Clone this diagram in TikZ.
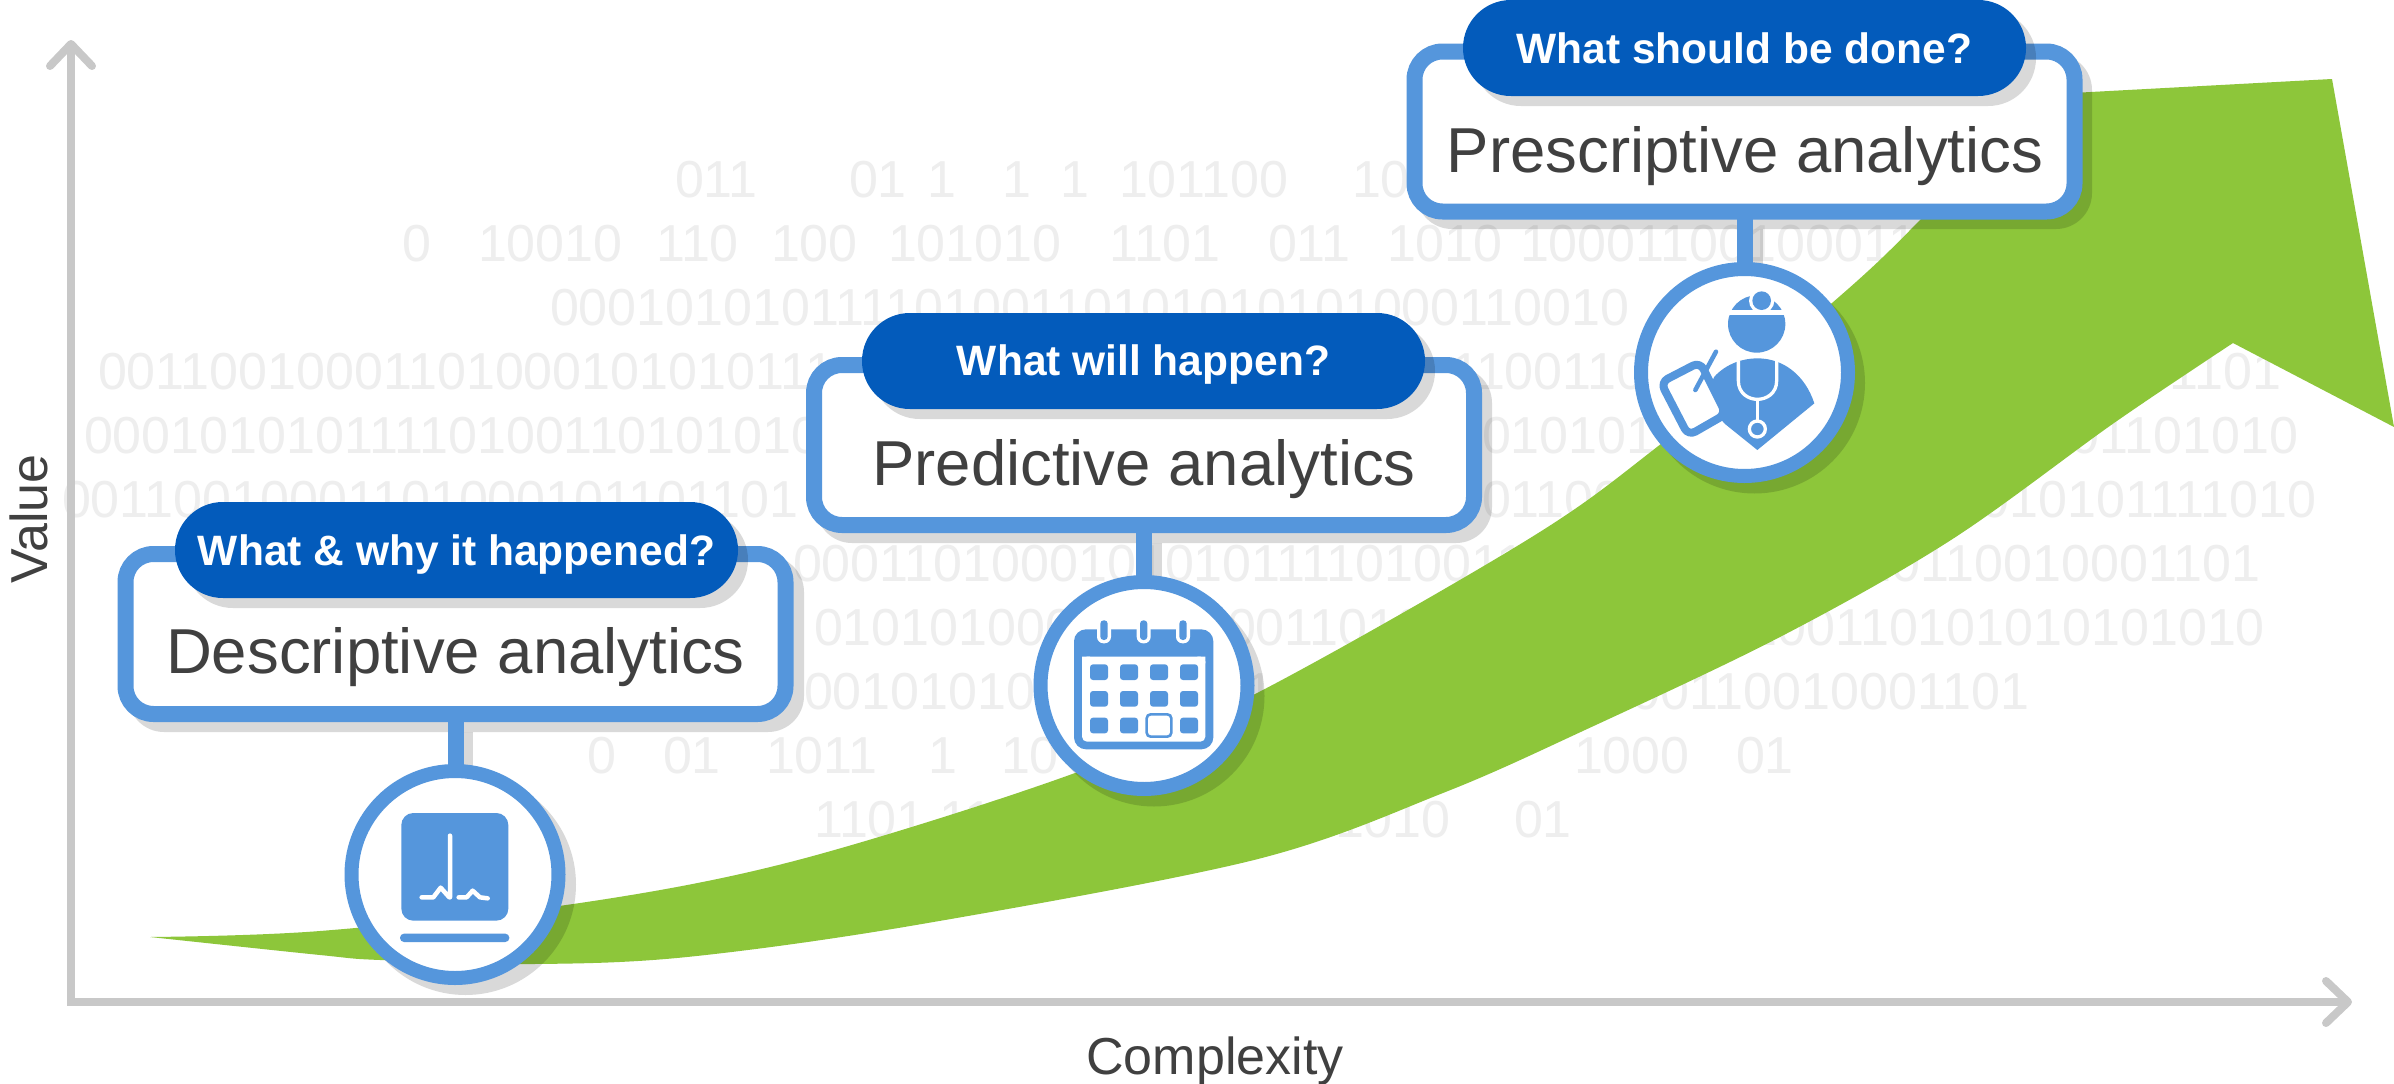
\documentclass[tikz,border=0pt]{standalone}
\usepackage{fontspec}
\setmainfont{Liberation Sans}
\usetikzlibrary{calc}
\definecolor{iconblue}{HTML}{5596DC}
\definecolor{pillblue}{HTML}{035BBB}
\definecolor{arrowgreen}{HTML}{8DC63A}
\definecolor{axisgray}{HTML}{C8C8C8}
\definecolor{bingray}{HTML}{EEEEEE}
\definecolor{textgray}{HTML}{404040}
\newcommand{\fsz}[1]{\fontsize{#1}{#1}\selectfont}
\tikzset{
  bin/.style={anchor=base west,inner sep=0pt,outer sep=0pt,text=bingray,font=\fsz{52}},
  binr/.style={anchor=base east,inner sep=0pt,outer sep=0pt,text=bingray,font=\fsz{52}},
  axisline/.style={draw=axisgray,line width=8pt,line join=miter},
  axislabel/.style={inner sep=0pt,text=textgray,font=\fsz{52},anchor=base},
  box/.style={draw=iconblue,fill=white,line width=16pt,rounded corners=28pt,minimum width=660pt,minimum height=160pt,inner sep=0pt,outer sep=0pt},
  pill/.style={fill=pillblue,rounded corners=47.9pt,minimum width=563pt,minimum height=96pt,inner sep=0pt,outer sep=0pt},
  pilltext/.style={anchor=base,inner sep=0pt,text=white,font=\fsz{42.5}\bfseries},
  boxtext/.style={anchor=base,inner sep=0pt,text=textgray,font=\fsz{63.5}},
  ring/.style={circle,draw=iconblue,fill=white,line width=14pt,minimum size=207pt,inner sep=0pt,outer sep=0pt},
  stem/.style={draw=iconblue,line width=16pt},
  shade/.style={fill=black,fill opacity=.15},
  ic/.style={fill=iconblue,draw=none},
  zoomed/.style={x=.33333pt,y=-.33333pt}
}
\begin{document}
\begin{tikzpicture}[x=1pt,y=-1pt]
\useasboundingbox (0,0) rectangle (2394,1084);
\fill[white] (0,0) rectangle (2394,1084);

% background binary digits
\foreach \x/\y/\t [count=\i] in {
 675/197/011, 849/197/01, 927/197/1, 1002/197/1, 1060/197/1, 1119/197/101100, 1352/197/100,
 402/261/0, 478/261/10010, 656/261/110, 771/261/100, 888/261/101010, 1109/261/1101, 1268/261/011, 1387/261/1010, 1520/261/10001100100011,
 550/325/00010101011110100110101010101000110010,
 98/389/00110010001101000101010111, 1451/389/1100110,
 84/453/00010101011110100110101010101, 1482/453/0101011,
 62/517/00110010001101000101101101, 1482/517/01100,
 793/581/00011010001010101111010011,
 814/645/010101000, 1227/645/00110101,
 804/709/0010101010, 1245/709/1,
 587/773/0, 663/773/01, 766/773/1011, 928/773/1, 1001/773/10,
 814/837/1101, 939/837/11, 1335/837/1010, 1514/837/01}
  {\node[bin] (bin\i) at (\x,\y) {\t};}
\node[binr] (binA) at (1574,773) {};
\node[bin] (binB) at (1574,773) {1000};
\node[bin] (binC) at (1736,773) {01};
\foreach \x/\y/\t [count=\i] in {
 2281/389/1101101, 2298/453/101101010, 2316/517/1010101111010,
 2260/581/1110110010001101, 2265/645/1100110101010101010, 2029/709/100110010001101}
  {\node[binr] (binr\i) at (\x,\y) {\t};}

% axes
\coordinate (origin) at (71,1002);
\coordinate (ytip) at (71,44);
\coordinate (xtip) at (2348,1002);
\draw[axisline] (ytip) -- (origin) -- (xtip);
\draw[axisline,line join=round,line cap=round] ($(ytip)+(-21,22)$) -- (ytip) -- ($(ytip)+(21,22)$);
\draw[axisline,line join=round,line cap=round] ($(xtip)+(-22,-21)$) -- (xtip) -- ($(xtip)+(-22,21)$);
\node[axislabel] (xlabel) at (1215,1074) {Complexity};
\node[axislabel,rotate=90] (ylabel) at (47,519) {Value};

% green arrow
\fill[arrowgreen] plot[smooth,tension=.55] coordinates {(150,937) (320,931) (580,903) (798,860) (1075,773) (1259,692) (1527,540) (1657,447) (1832,303) (1920,220) (2035,95)}
  -- (2332,79) -- (2394,427) -- (2233,343)
  -- plot[smooth,tension=.55] coordinates {(2233,343) (2114,423) (1951,540) (1780,637) (1585,730) (1443,793) (1254,860) (916,925) (687,957) (534,964) (380,960) (320,955) (150,937)} -- cycle;

% Descriptive
\fill[shade] (463,732) rectangle (473,775);
\fill[shade,rounded corners=36pt] (128,556) rectangle (804,732);
\fill[shade] (465.5,884.5) circle (110.5);
\node[ring] (descCircle) at (455,874.5) {};
\node[box] (descBox) at (455.5,634) {};
\draw[stem] (descBox.south) -- (descBox.south |- descCircle.north);
\fill[shade,rounded corners=47.9pt] (185,512) rectangle (748,608);
\node[pill] (descPill) at (456.5,550) {};
\node[pilltext] (descQ) at (456.5,565) {What \& why it happened?};
\node[boxtext] (descT) at (455.5,673) {Descriptive analytics};

% Predictive
\fill[shade] (1152,543) rectangle (1162,586);
\fill[shade,rounded corners=36pt] (816,367) rectangle (1492,543);
\fill[shade] (1154,696) circle (110.5);
\node[ring] (predCircle) at (1144,685.5) {};
\node[box] (predBox) at (1144,445) {};
\draw[stem] (predBox.south) -- (predCircle.north);
\fill[shade,rounded corners=47.9pt] (872,323) rectangle (1435,419);
\node[pill] (predPill) at (1143.5,361) {};
\node[pilltext] (predQ) at (1143.5,375) {What will happen?};
\node[boxtext] (predT) at (1144,485) {Predictive analytics};

% Prescriptive
\fill[shade] (1752.5,229) rectangle (1762.5,273);
\fill[shade,rounded corners=36pt] (1416,54) rectangle (2092,229);
\fill[shade] (1754.5,383) circle (110.5);
\node[ring] (presCircle) at (1744.5,372.5) {};
\node[box] (presBox) at (1744.5,131.5) {};
\draw[stem] (presBox.south) -- (presCircle.north);
\fill[shade,rounded corners=47.9pt] (1473,10) rectangle (2036,106);
\node[pill] (presPill) at (1744.5,48) {};
\node[pilltext] (presQ) at (1744.5,63) {What should be done?};
\node[boxtext] (presT) at (1745,172) {Prescriptive analytics};

% icon: chart
\begin{scope}[shift={(320,740)},zoomed]
  \fill[ic,rounded corners=12pt] (244,219) rectangle (565,542);
  \fill[ic,rounded corners=4pt] (240,581) rectangle (568,606);
  \draw[white,line width=4.5pt,line cap=round,line join=round]
    (390,287) -- (390,472)
    (305,472) -- (340,472) -- (362,443) -- (388,472)
    (416,472) -- (440,472) -- (458,452) -- (480,472) -- (503,475);
\end{scope}

% icon: calendar
\begin{scope}[shift={(1010,560)},zoomed]
  \fill[ic,rounded corners=12pt] (192,208) rectangle (610,568);
  \fill[white,rounded corners=5pt] (216,290) -- (216,545) -- (586,545) -- (586,290) -- cycle;
  \fill[white] (216,290) rectangle (240,310) (562,290) rectangle (586,310);
  \foreach \cx in {282,401,519}{
    \fill[white,rounded corners=6.5pt] (\cx-21,170) rectangle (\cx+21,250);
    \fill[ic,rounded corners=3.3pt] (\cx-11,181) rectangle (\cx+11,240);
  }
  \foreach \cx in {240,330,420,510}
    \foreach \cy in {313,393,473}
      \fill[ic,rounded corners=3pt] (\cx,\cy) rectangle (\cx+54,\cy+47);
  \fill[white] (410,463) rectangle (484,530);
  \draw[iconblue,fill=white,line width=2.6pt,rounded corners=4pt] (410,463) rectangle (484,530);
\end{scope}

% icon: doctor
\begin{scope}[shift={(1620,260)},zoomed]
  \fill[ic] (410,192) circle (86);
  \fill[white] (310,150) rectangle (510,165);
  \fill[white] (425,122) circle (38);
  \fill[ic] (425,122) circle (28);
  \fill[ic] (283,350) .. controls (320,310) and (370,295) .. (412,295)
     .. controls (490,295) and (555,345) .. (583,430)
     -- (412,570) -- (315,492) -- (250,420) -- cycle;
  \draw[iconblue,fill=white,line width=8pt,line join=round,rounded corners=8pt]
     (122,367) -- (240,306) -- (318,462) -- (205,527) -- cycle;
  \draw[iconblue,line width=4.5pt,line cap=round] (288,275) -- (226,390);
  \draw[white,line width=3.3pt] (355,303) -- (355,362) .. controls (355,400) and (385,418) .. (412,418)
     .. controls (440,418) and (470,400) .. (470,362) -- (470,303);
  \draw[white,line width=3.3pt] (412,418) -- (412,485);
  \draw[white,fill=iconblue,line width=3.3pt] (412,507) circle (24);
\end{scope}
\end{tikzpicture}
\end{document}
